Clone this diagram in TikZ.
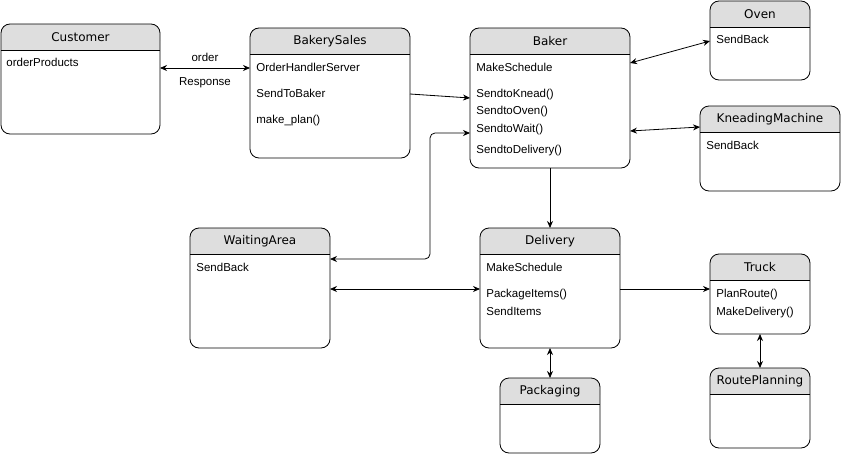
\documentclass[tikz,border=0pt]{standalone}
\usepackage{fontspec}
\setmainfont{DejaVu Sans}
\newfontfamily\bodyfont{Liberation Sans}
\usetikzlibrary{arrows.meta}

\tikzset{
  box/.style={rectangle,inner sep=0pt,outer sep=0pt},
  head/.style={fill=black!13},
  title/.style={inner sep=0pt,font=\fontsize{12}{14}\selectfont},
  item/.style={anchor=west,inner sep=0pt,text height=8.5pt,text depth=2.5pt,font=\bodyfont\fontsize{11.5}{13}\selectfont},
  lbl/.style={inner sep=0pt,font=\bodyfont\fontsize{11.5}{13}\selectfont},
}

% one class box: name, left, top, width, height, title
\newcommand{\classbox}[6]{%
  \node[box,minimum width=#4pt,minimum height=#5pt,anchor=north west] (#1) at (#2,#3) {};
  \fill[head,rounded corners=9pt] (#1.north west) rectangle ([yshift=-26pt]#1.north east);
  \fill[head] ([yshift=-14pt]#1.north west) rectangle ([yshift=-26pt]#1.north east);
  \draw ([yshift=-26pt]#1.north west) -- ([yshift=-26pt]#1.north east);
  \draw[rounded corners=9pt] (#1.north west) rectangle (#1.south east);
  \node[title] (#1-t) at ([yshift=-13pt]#1.north) {#6};
}

\begin{document}
\begin{tikzpicture}[x=1pt,y=-1pt,line width=0.8pt,>={Stealth[length=7pt,width=6pt]}]
\useasboundingbox (0,0) rectangle (841,455);
\classbox{cust}{1}{24}{159}{110}{Customer}
\classbox{sales}{250}{28}{160}{130}{BakerySales}
\classbox{baker}{470}{28}{160}{140}{Baker}
\classbox{oven}{710}{1}{100}{79}{Oven}
\classbox{knead}{700}{106}{140}{85}{KneadingMachine}
\classbox{wait}{190}{228}{140}{120}{WaitingArea}
\classbox{deliv}{480}{228}{140}{120}{Delivery}
\classbox{pack}{500}{378}{100}{75}{Packaging}
\classbox{truck}{710}{254}{100}{80}{Truck}
\classbox{route}{710}{368}{100}{80}{RoutePlanning}
\node[item] (cust-1) at (6,63) {orderProducts};
\node[item] (sales-1) at (256,68) {OrderHandlerServer};
\node[item] (sales-2) at (256,94) {SendToBaker};
\node[item] (sales-3) at (256,120) {make\_plan()};
\node[item] (baker-1) at (476,68) {MakeSchedule};
\node[item] (baker-2) at (476,94) {SendtoKnead()};
\node[item] (baker-3) at (476,111) {SendtoOven()};
\node[item] (baker-4) at (476,129) {SendtoWait()};
\node[item] (baker-5) at (476,150) {SendtoDelivery()};
\node[item] (oven-1) at (716,40) {SendBack};
\node[item] (knead-1) at (706,146) {SendBack};
\node[item] (wait-1) at (196,268) {SendBack};
\node[item] (deliv-1) at (486,268) {MakeSchedule};
\node[item] (deliv-2) at (486,294) {PackageItems()};
\node[item] (deliv-3) at (486,312) {SendItems};
\node[item] (truck-1) at (716,294) {PlanRoute()};
\node[item] (truck-2) at (716,312) {MakeDelivery()};
\path (cust.east |- sales-1) edge [<->] node[lbl,above=6pt] {order} node[lbl,below=9pt] {Response} (sales.west |- sales-1);
\draw[->] (sales.east |- sales-2) -- ([yshift=-4pt]baker.west |- baker-2);
\draw[<->] ([yshift=5pt]baker.east |- baker-1) -- ([yshift=-1pt]oven.west |- oven-1);
\draw[<->] ([yshift=-2pt]baker.east |- baker-4) -- ([yshift=2pt]knead.west |- baker-4);
\draw[->] (baker.south) -- (deliv.north);
\draw[<->,rounded corners=5pt] ([yshift=9pt]wait.east |- wait-1) -| ([xshift=-40pt,yshift=-4pt]baker.west |- baker-4) -- ([yshift=-4pt]baker.west |- baker-4);
\draw[<->] ([yshift=5pt]wait.east |- deliv-2) -- ([yshift=5pt]deliv.west |- deliv-2);
\draw[->] ([yshift=5pt]deliv.east |- truck-1) -- ([yshift=5pt]truck.west |- truck-1);
\draw[<->] (deliv.south) -- (pack.north);
\draw[<->] (truck.south) -- (route.north);
\end{tikzpicture}
\end{document}
